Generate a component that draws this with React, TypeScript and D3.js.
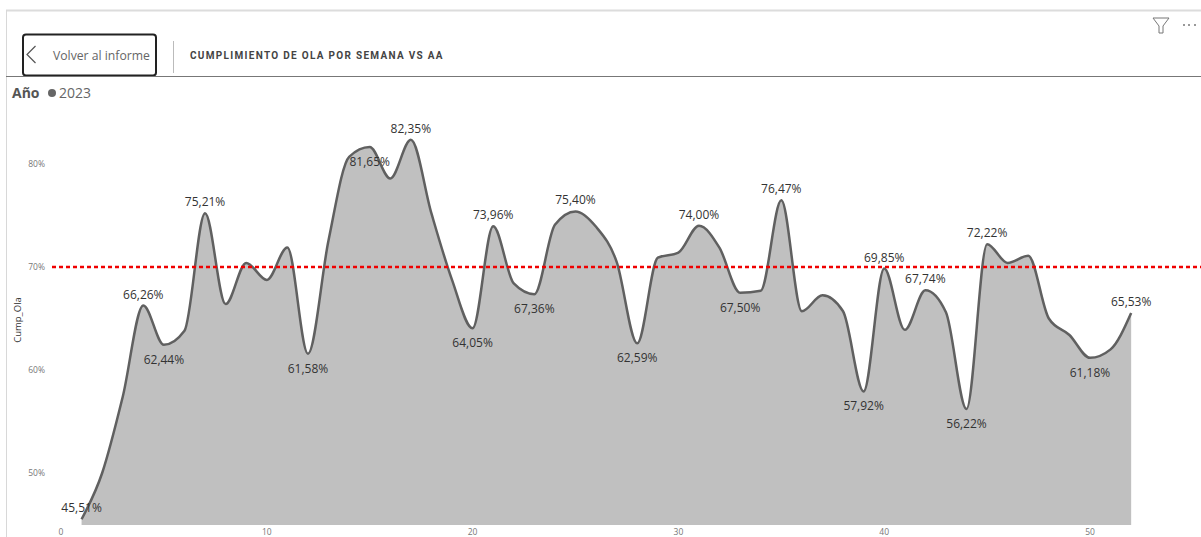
import React from "react";
import * as d3 from "d3";

// Weekly wave compliance for 2023 (percent)
const weeks = d3.range(1, 53);
const cumpOla = [
  45.51, 50.0, 57.4, 66.26, 62.44, 63.8, 75.21, 66.4, 70.4, 68.75, 71.9, 61.58, 72.6,
  80.7, 81.65, 78.6, 82.35, 75.2, 68.75, 64.05, 73.96, 68.4, 67.36, 74.1, 75.4, 73.9,
  70.5, 62.59, 70.9, 71.4, 74.0, 71.85, 67.5, 67.7, 76.47, 65.7, 67.25, 65.7, 57.92,
  69.85, 63.9, 67.74, 65.6, 56.22, 72.22, 70.4, 71.1, 65.0, 63.4, 61.18, 62.0, 65.53,
];
const labelledAbove = [1, 4, 7, 17, 21, 25, 31, 35, 40, 42, 45, 52];
const labelledBelow = [5, 12, 15, 20, 23, 28, 33, 39, 44, 50];
const xTicks = [0, 10, 20, 30, 40, 50];
const yTicks = [50, 60, 70, 80];
const targetLine = 70;

const uiFont = "'Open Sans', 'Noto Sans', sans-serif";
const W = 1201;
const H = 537;

const x = d3.scaleLinear().domain([0, 50]).range([61, 1090]);
const y = d3.scaleLinear().domain([50, 80]).range([473, 164]);
const baseline = 525;

const fmt = (v: number) => v.toFixed(2).replace(".", ",") + "%";

export default function App() {
  const points = weeks.map((w, i) => [w, cumpOla[i]] as [number, number]);
  const curve = d3.curveMonotoneX;
  const area = d3
    .area<[number, number]>()
    .x((d) => x(d[0]))
    .y0(baseline)
    .y1((d) => y(d[1]))
    .curve(curve)(points)!;
  const line = d3
    .line<[number, number]>()
    .x((d) => x(d[0]))
    .y((d) => y(d[1]))
    .curve(curve)(points)!;

  const label = (w: number, above: boolean) => {
    const v = cumpOla[w - 1];
    return (
      <text
        key={w}
        x={x(w)}
        y={y(v) + (above ? -7 : 19)}
        textAnchor="middle"
        fontFamily={uiFont}
        fontSize={12}
        fill="#333"
      >
        {fmt(v)}
      </text>
    );
  };

  return (
    <svg
      width={W}
      height={H}
      viewBox={`0 0 ${W} ${H}`}
      style={{ position: "absolute", left: 0, top: 0, background: "#fff" }}
    >
      {/* Page frame */}
      <line x1={6} x2={W} y1={10.5} y2={10.5} stroke="#dcdcdc" strokeWidth={2} />
      <line x1={6.5} x2={6.5} y1={10} y2={H} stroke="#d8d8d8" />

      {/* Drill-through header */}
      <rect x={23} y={34.5} width={133} height={41} rx={3} fill="#fff" stroke="#222" strokeWidth={2} />
      <path d="M35.5 46 L27 54.5 L35.5 63" fill="none" stroke="#555" strokeWidth={1.2} />
      <text x={53} y={60} fontFamily={uiFont} fontSize={12.2} fill="#666">
        Volver al informe
      </text>
      <line x1={173.5} x2={173.5} y1={41} y2={73} stroke="#bbb" />
      <text
        x={190}
        y={59}
        fontFamily="'Roboto', sans-serif"
        fontWeight={700}
        fontSize={10}
        letterSpacing={1.3}
        fill="#444"
      >
        CUMPLIMIENTO DE OLA POR SEMANA VS AA
      </text>
      <line x1={6} x2={W} y1={76.5} y2={76.5} stroke="#777" />

      {/* Visual options */}
      <path d="M1153 18 L1169 18 L1163 26 L1163 33 L1159 33 L1159 26 Z" fill="none" stroke="#777" strokeWidth={1} />
      {[1184, 1189, 1195].map((cx) => (
        <circle key={cx} cx={cx} cy={25} r={1} fill="#777" />
      ))}

      {/* Legend */}
      <text x={12} y={98} fontFamily={uiFont} fontWeight={700} fontSize={14} fill="#555">
        Año
      </text>
      <circle cx={52} cy={93} r={4} fill="#666" />
      <text x={59} y={98} fontFamily={uiFont} fontSize={14} fill="#666">
        2023
      </text>

      {/* Series */}
      <path d={area} fill="#c0c0c0" />
      <path d={line} fill="none" stroke="#606060" strokeWidth={2.5} />

      {/* Target reference */}
      <line
        x1={52}
        x2={W}
        y1={y(targetLine)}
        y2={y(targetLine)}
        stroke="#f00000"
        strokeWidth={2.5}
        strokeDasharray="4 3"
      />

      {/* Axes */}
      {yTicks.map((t) => (
        <text key={t} x={45} y={y(t) + 3} textAnchor="end" fontFamily={uiFont} fontSize={8.5} fill="#777">
          {t}%
        </text>
      ))}
      {xTicks.map((t) => (
        <text key={t} x={x(t)} y={534.5} textAnchor="middle" fontFamily={uiFont} fontSize={8.5} fill="#777">
          {t}
        </text>
      ))}
      <text
        transform="translate(21,320) rotate(-90)"
        textAnchor="middle"
        fontFamily={uiFont}
        fontSize={9.5}
        fill="#333"
      >
        Cump_Ola
      </text>

      {/* Data labels */}
      {labelledAbove.map((w) => label(w, true))}
      {labelledBelow.map((w) => label(w, false))}
    </svg>
  );
}
